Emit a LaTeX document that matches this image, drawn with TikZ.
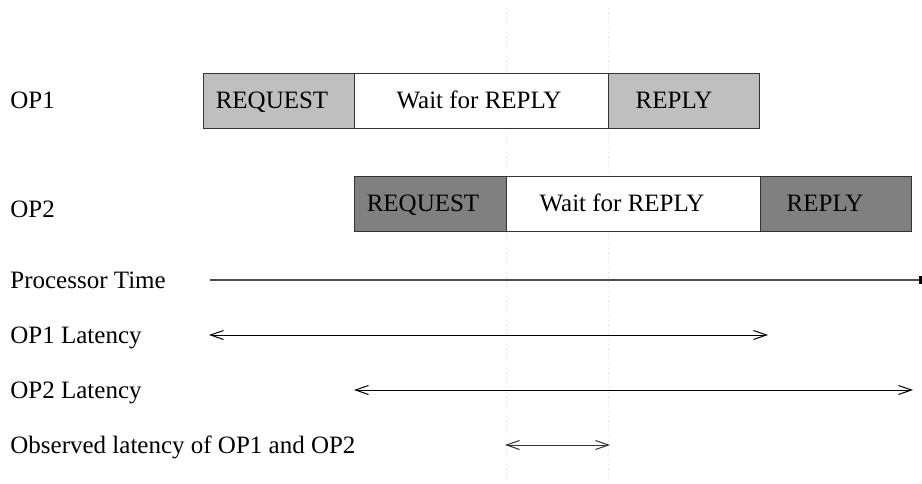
\documentclass[tikz,border=0pt]{standalone}
\usepackage{fontspec}
\setmainfont{Liberation Serif}
\usetikzlibrary{arrows.meta}
\begin{document}
\begin{tikzpicture}[x=0.5pt,y=-0.5pt,
  every node/.style={font=\fontsize{12.5}{14}\selectfont, inner sep=0pt},
  txt/.style={anchor=base},
  seg/.style={draw=black!80, line width=0.45pt, minimum height=27.5pt, anchor=north west},
  light/.style={seg, fill=black!25},
  dark/.style={seg, fill=black!50},
  wait/.style={seg, fill=white},
  lbl/.style={anchor=base west},
  span/.style={line width=0.5pt, {Straight Barb[length=6.5pt,width=4.5pt]}-{Straight Barb[length=6.5pt,width=4.5pt]}},
  guide/.style={draw=black!15, line width=0.4pt, dotted}
]
\useasboundingbox (0,0) rectangle (922,483);
% faint guides
\coordinate (g1t) at (506,8); \coordinate (g1b) at (506,483);
\coordinate (g2t) at (608,8); \coordinate (g2b) at (608,483);
\draw[guide] (g1t) -- (g1b);
\draw[guide] (g2t) -- (g2b);
% OP1 row
\node[light, minimum width=75.5pt] (r1) at (203,73) {};
\node[wait, minimum width=127pt] (w1) at (354,73) {};
\node[light, minimum width=75.5pt] (p1) at (608,73) {};
\node[txt] at (272,108) {REQUEST};
\node[txt] at (479,108) {Wait for REPLY};
\node[txt] at (674,108) {REPLY};
% OP2 row
\node[dark, minimum width=76pt] (r2) at (354,176) {};
\node[wait, minimum width=127pt] (w2) at (506,176) {};
\node[dark, minimum width=75.5pt] (p2) at (760,176) {};
\node[txt] at (423,211) {REQUEST};
\node[txt] at (622,211) {Wait for REPLY};
\node[txt] at (825,211) {REPLY};
% labels
\node[lbl] (l1) at (10,108) {OP1};
\node[lbl] (l2) at (10,217) {OP2};
\node[lbl] (l3) at (10,288) {Processor Time};
\node[lbl] (l4) at (10,343) {OP1 Latency};
\node[lbl] (l5) at (10,398) {OP2 Latency};
\node[lbl] (l6) at (10,453) {Observed latency of OP1 and OP2};
% lines
\coordinate (pt0) at (210,280); \coordinate (pt1) at (922,280);
\draw[draw=black!70, line width=0.6pt, -{Rectangle[length=1.5pt,width=4pt,black]}] (pt0) -- (pt1);
\coordinate (a0) at (209,335); \coordinate (a1) at (768,335);
\draw[span] (a0) -- (a1);
\coordinate (b0) at (354,390); \coordinate (b1) at (913,390);
\draw[span] (b0) -- (b1);
\coordinate (c0) at (505,445); \coordinate (c1) at (610,445);
\draw[span, draw=black!80] (c0) -- (c1);
\end{tikzpicture}
\end{document}
